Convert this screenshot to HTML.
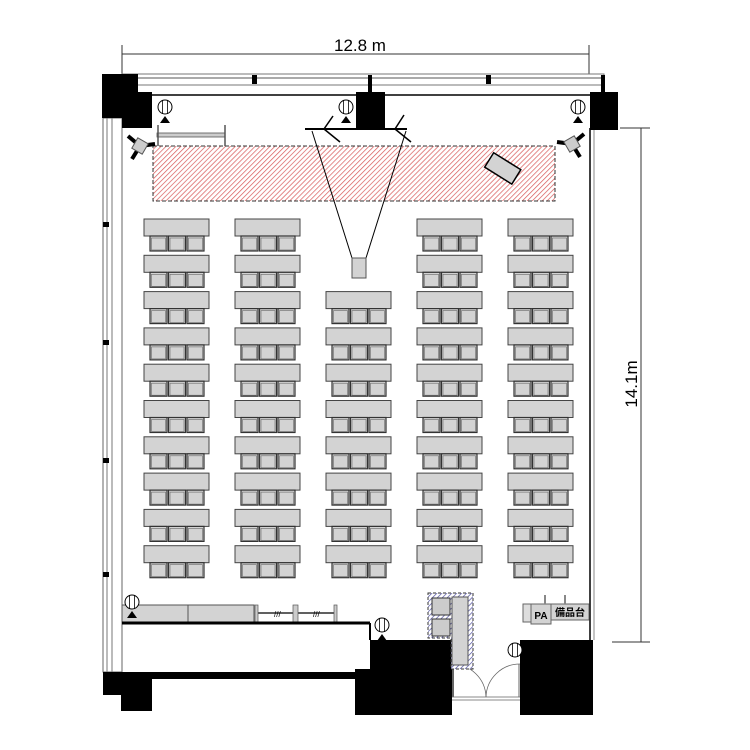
<!DOCTYPE html>
<html><head><meta charset="utf-8"><style>
html,body{margin:0;padding:0;background:#fff;}
svg{display:block;}
text{font-family:"Liberation Sans","Noto Sans CJK JP",sans-serif;}
</style></head><body>
<svg id="s" width="750" height="750" viewBox="0 0 750 750" xmlns="http://www.w3.org/2000/svg">
<defs>
<pattern id="h" patternUnits="userSpaceOnUse" width="3.5" height="3.5" patternTransform="rotate(45)">
<rect width="3.5" height="3.5" fill="#fff"/><line x1="0" y1="0" x2="0" y2="3.5" stroke="#d85858" stroke-width="1.4"/>
</pattern>
<pattern id="hb" patternUnits="userSpaceOnUse" width="3.5" height="3.5" patternTransform="rotate(45)">
<rect width="3.5" height="3.5" fill="#fff"/><line x1="0" y1="0" x2="0" y2="3.5" stroke="#5050a0" stroke-width="1.4"/>
</pattern>
</defs>
<!-- dimension top -->
<line x1="122" y1="54" x2="589" y2="54" stroke="#333" stroke-width="1"/>
<line x1="122" y1="45" x2="122" y2="74" stroke="#333"/>
<line x1="589" y1="45" x2="589" y2="74" stroke="#333"/>
<text x="360" y="51" font-size="17" text-anchor="middle">12.8 m</text>
<!-- dimension right -->
<line x1="641" y1="128" x2="641" y2="642" stroke="#333"/>
<line x1="620" y1="128" x2="650" y2="128" stroke="#333"/>
<line x1="612" y1="642" x2="650" y2="642" stroke="#333"/>
<text transform="translate(637,384) rotate(-90)" font-size="17" text-anchor="middle">14.1m</text>
<!-- top window band -->
<rect x="122" y="74" width="482" height="11" fill="#fff" stroke="#777" stroke-width="1"/>
<line x1="122" y1="78" x2="604" y2="78" stroke="#555"/>
<line x1="122" y1="95" x2="590" y2="95" stroke="#000" stroke-width="1.5"/>
<rect x="252" y="75" width="5" height="9" fill="#000"/>
<rect x="486" y="75" width="5" height="9" fill="#000"/>
<rect x="368" y="75" width="4" height="20" fill="#000"/>
<rect x="601" y="75" width="4" height="20" fill="#000"/>
<!-- left wall -->
<rect x="103" y="118" width="19" height="554" fill="#fff" stroke="#666"/>
<line x1="107" y1="118" x2="107" y2="672" stroke="#777"/>
<line x1="112" y1="118" x2="112" y2="672" stroke="#777"/>
<rect x="103" y="222" width="6" height="5" fill="#000"/>
<rect x="103" y="340" width="6" height="5" fill="#000"/>
<rect x="103" y="458" width="6" height="5" fill="#000"/>
<rect x="103" y="572" width="6" height="5" fill="#000"/>
<!-- right wall -->
<line x1="590" y1="128" x2="590" y2="640" stroke="#000" stroke-width="1.5"/>
<line x1="594" y1="128" x2="594" y2="640" stroke="#888"/>
<!-- pillars -->
<path d="M102 74 H138 V92 H152 V128 H122 V118 H102 Z" fill="#000"/>
<rect x="356" y="92" width="29" height="38" fill="#000"/>
<rect x="590" y="92" width="28" height="38" fill="#000"/>
<!-- stage -->
<rect x="153" y="146" width="402" height="55" fill="url(#h)" stroke="#333" stroke-dasharray="4,2" stroke-width="1"/>
<rect x="487" y="160" width="32" height="17" fill="#d3d3d3" stroke="#000" stroke-width="1.5" transform="rotate(32 503 168)"/>
<!-- rail -->
<rect x="157" y="133" width="68" height="4" fill="#ccc" stroke="#555" stroke-width="0.8"/>
<line x1="158" y1="125" x2="158" y2="146" stroke="#555" stroke-width="1.5"/>
<line x1="225" y1="125" x2="225" y2="146" stroke="#555" stroke-width="1.5"/>
<!-- screen & projector -->
<line x1="305" y1="129" x2="407" y2="129" stroke="#000" stroke-width="2"/>
<line x1="324" y1="129" x2="333" y2="116" stroke="#000" stroke-width="1.5"/>
<line x1="324" y1="129" x2="340" y2="142" stroke="#000" stroke-width="1.5"/>
<line x1="395" y1="129" x2="404" y2="115" stroke="#000" stroke-width="1.5"/>
<line x1="395" y1="129" x2="411" y2="142" stroke="#000" stroke-width="1.5"/>
<polyline points="312,131 352,258 366,258 406,131" fill="none" stroke="#000" stroke-width="1"/>
<rect x="352" y="258" width="14" height="20" fill="#d3d3d3" stroke="#555"/>
<!-- speakers -->
<g transform="translate(140,146)">
<line x1="0" y1="0" x2="-12" y2="-10" stroke="#000" stroke-width="4"/>
<line x1="0" y1="0" x2="-8" y2="13" stroke="#000" stroke-width="4"/>
<line x1="0" y1="0" x2="15" y2="-2" stroke="#000" stroke-width="4"/>
<rect x="-6" y="-6" width="12" height="12" fill="#ccc" stroke="#555" transform="rotate(30)"/>
</g>
<g transform="translate(572,144) scale(-1,1)">
<line x1="0" y1="0" x2="-12" y2="-10" stroke="#000" stroke-width="4"/>
<line x1="0" y1="0" x2="-8" y2="13" stroke="#000" stroke-width="4"/>
<line x1="0" y1="0" x2="15" y2="-2" stroke="#000" stroke-width="4"/>
<rect x="-6" y="-6" width="12" height="12" fill="#ccc" stroke="#555" transform="rotate(30)"/>
</g>
<g id="tables"></g>
<!-- bottom left counter -->
<rect x="122" y="605" width="132" height="17" fill="#d3d3d3" stroke="#555"/>
<line x1="188" y1="605" x2="188" y2="622" stroke="#555"/>
<line x1="258" y1="613" x2="336" y2="613" stroke="#000" stroke-width="1.3"/>
<rect x="255" y="605" width="3" height="17" fill="#ccc" stroke="#555" stroke-width="0.7"/>
<rect x="293" y="605" width="5" height="17" fill="#ccc" stroke="#555" stroke-width="0.7"/>
<rect x="334" y="605" width="3" height="17" fill="#ccc" stroke="#555" stroke-width="0.7"/>
<text x="274" y="617" font-size="8" fill="#000">///</text>
<text x="313" y="617" font-size="8" fill="#000">///</text>
<line x1="122" y1="623" x2="370" y2="623" stroke="#000" stroke-width="3"/>
<line x1="370" y1="623" x2="370" y2="640" stroke="#000" stroke-width="2"/>
<!-- bottom black -->
<path d="M370 640 H452 V715 H355 V669 H370 Z" fill="#000"/>
<path d="M103 672 H355 V679 H152 V711 H121 V695 H103 Z" fill="#000"/>
<rect x="520" y="640" width="73" height="75" fill="#000"/>
<!-- door -->
<line x1="452" y1="697" x2="520" y2="697" stroke="#888"/>
<line x1="452" y1="700" x2="520" y2="700" stroke="#888"/>
<path d="M452 664 A34 34 0 0 1 486 697" fill="none" stroke="#666" stroke-width="0.8"/>
<path d="M520 664 A34 34 0 0 0 486 697" fill="none" stroke="#666" stroke-width="0.8"/>
<line x1="453" y1="669" x2="453" y2="697" stroke="#666" stroke-width="2"/>
<line x1="519" y1="664" x2="519" y2="697" stroke="#666"/>
<!-- hatched box -->
<path d="M428 593 H473 V669 H451 V638 H428 Z" fill="url(#hb)" stroke="#333" stroke-dasharray="3,2"/>
<rect x="432" y="598" width="18" height="17" fill="#ccc" stroke="#333"/>
<rect x="432" y="619" width="18" height="17" fill="#ccc" stroke="#333"/>
<rect x="452" y="597" width="16" height="68" fill="#d3d3d3" stroke="#555"/>
<!-- PA -->
<rect x="523" y="604" width="8" height="18" fill="#ddd" stroke="#666"/>
<rect x="531" y="604" width="20" height="20" fill="#d3d3d3" stroke="#666"/>
<rect x="551" y="604" width="38" height="16" fill="#d3d3d3" stroke="#666"/>
<line x1="545" y1="595" x2="545" y2="604" stroke="#888" stroke-width="2"/>
<line x1="565" y1="595" x2="565" y2="604" stroke="#888" stroke-width="2"/>
<text x="541" y="619" font-size="10" font-weight="bold" text-anchor="middle">PA</text>
<text x="570" y="616" font-size="10" font-weight="bold" text-anchor="middle">備品台</text>
<g id="lamps"></g>
</svg>
<script>
var ns="http://www.w3.org/2000/svg";
function el(p,t,a){var e=document.createElementNS(ns,t);for(var k in a)e.setAttribute(k,a[k]);p.appendChild(e);return e;}
var g=document.getElementById('tables');
var cols=[144,235,326,417,508];
for(var c=0;c<5;c++){
 var start=(c==2)?2:0;
 for(var r=start;r<10;r++){
  var y=219+r*36.3, x=cols[c];
  el(g,'rect',{x:x,y:y,width:65,height:17,fill:'#d3d3d3',stroke:'#444','stroke-width':1});
  for(var k=0;k<3;k++){
   var cx=x+6+k*18.5;
   el(g,'rect',{x:cx,y:y+17,width:17,height:15,fill:'#d3d3d3',stroke:'#333','stroke-width':1.2});
   el(g,'rect',{x:cx+1.5,y:y+19,width:14,height:12,fill:'none',stroke:'#666','stroke-width':0.6});
  }
 }
}
var L=document.getElementById('lamps');
[[165,107],[346,107],[578,107],[132,602],[382,625],[515,650]].forEach(function(p){
 el(L,'circle',{cx:p[0],cy:p[1],r:7,fill:'#fff',stroke:'#000','stroke-width':1});
 el(L,'line',{x1:p[0]-2.5,y1:p[1]-7,x2:p[0]-2.5,y2:p[1]+7,stroke:'#000','stroke-width':0.8});
 el(L,'line',{x1:p[0]+2.5,y1:p[1]-7,x2:p[0]+2.5,y2:p[1]+7,stroke:'#000','stroke-width':0.8});
 if(p[0]!=515) el(L,'path',{d:'M'+(p[0]-5)+' '+(p[1]+16)+' L'+p[0]+' '+(p[1]+9)+' L'+(p[0]+5)+' '+(p[1]+16)+' Z',fill:'#000'});
});
</script>
</body></html>
